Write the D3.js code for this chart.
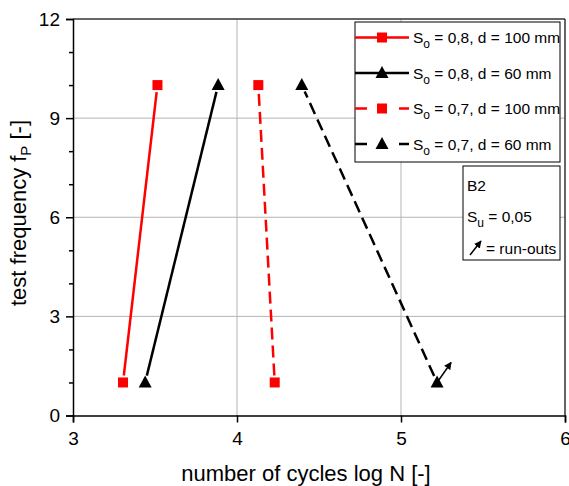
<!DOCTYPE html>
<html><head><meta charset="utf-8">
<script src="https://cdn.jsdelivr.net/npm/d3@7"></script>
<style>body{margin:0;background:#fff}svg{display:block;font-family:"Liberation Sans",Arial,sans-serif}</style>
</head><body><svg id="c" width="569" height="486"></svg>
<script>
// S-N style series: log N at low (1 Hz) and high (10 Hz) test frequency
const freqs = [1, 10];
const redSolid = [3.305, 3.515];
const blackSolid = [3.44, 3.885];
const redDashed = [4.23, 4.13];
const blackDashed = [5.22, 4.395];
const seriesNames = ["S|o| = 0,8, d = 100 mm", "S|o| = 0,8, d = 60 mm", "S|o| = 0,7, d = 100 mm", "S|o| = 0,7, d = 60 mm"];
const xTicks = [3, 4, 5, 6];
const yTicks = [0, 3, 6, 9, 12];
const yMinor = [1, 2, 4, 5, 7, 8, 10, 11];

const series = [
  {x: redSolid, color: "#ff0000", dash: null, sym: "square"},
  {x: blackSolid, color: "#000", dash: null, sym: "tri"},
  {x: redDashed, color: "#ff0000", dash: "12,6", sym: "square"},
  {x: blackDashed, color: "#000", dash: "12,6", sym: "tri"}
];

const svg = d3.select("#c");
const L = 73, R = 565, T = 19, B = 415.5;
const x = d3.scaleLinear().domain([3, 6]).range([L, R]);
const y = d3.scaleLinear().domain([0, 12]).range([B, T]);

// grid
const g = svg.append("g");
g.selectAll(".gx").data([4, 5]).join("line").attr("x1", d => x(d)).attr("x2", d => x(d))
  .attr("y1", T).attr("y2", B).attr("stroke", "#b4b4b4").attr("stroke-width", 1);
g.selectAll(".gy").data([3, 6, 9]).join("line").attr("y1", d => y(d)).attr("y2", d => y(d))
  .attr("x1", L).attr("x2", R).attr("stroke", "#b4b4b4").attr("stroke-width", 1);

// frame (top/right)
svg.append("line").attr("x1", L).attr("x2", R).attr("y1", T).attr("y2", T).attr("stroke", "#333").attr("stroke-width", 1.5);
svg.append("line").attr("x1", R).attr("x2", R).attr("y1", T).attr("y2", B).attr("stroke", "#333").attr("stroke-width", 1.5);

// axes
const xa = svg.append("g").attr("transform", `translate(0,${B})`)
  .call(d3.axisBottom(x).tickValues(xTicks).tickSize(7).tickPadding(9).tickFormat(d3.format("d")));
const ya = svg.append("g").attr("transform", `translate(${L},0)`)
  .call(d3.axisLeft(y).tickValues(yTicks).tickSize(7).tickPadding(6).tickFormat(d3.format("d")));
svg.append("g").attr("transform", `translate(${L},0)`)
  .call(d3.axisLeft(y).tickValues(yMinor).tickSize(4).tickFormat(""))
  .call(a => a.select(".domain").remove());
[xa, ya].forEach(a => {
  a.select(".domain").attr("stroke", "#000").attr("stroke-width", 1.5);
  a.selectAll("text").attr("font-size", 19).attr("fill", "#000").attr("font-family", "Liberation Sans, Arial, sans-serif");
});
svg.selectAll(".tick line").attr("stroke", "#000").attr("stroke-width", 1.5);

// axis titles
svg.append("text").attr("x", 306).attr("y", 481).attr("text-anchor", "middle").attr("font-size", 22)
  .text("number of cycles log N [-]");
const yt = svg.append("text").attr("transform", "translate(26,213) rotate(-90)").attr("text-anchor", "middle").attr("font-size", 22);
yt.append("tspan").text("test frequency f");
yt.append("tspan").attr("font-size", 15).attr("dy", 5).text("P");
yt.append("tspan").attr("dy", -5).text(" [-]");

function marker(sel, sym, cx, cy, color) {
  if (sym === "square") {
    sel.append("rect").attr("x", cx - 5).attr("y", cy - 5).attr("width", 10).attr("height", 10).attr("fill", color);
  } else {
    sel.append("path").attr("d", `M${cx},${cy - 7}L${cx + 6.5},${cy + 5}L${cx - 6.5},${cy + 5}Z`).attr("fill", color);
  }
}

// data lines with gaps near markers
const gap = 7;
series.forEach(s => {
  const p = freqs.map((f, i) => [x(s.x[i]), y(f)]);
  const dx = p[1][0] - p[0][0], dy = p[1][1] - p[0][1], len = Math.hypot(dx, dy);
  const ux = dx / len, uy = dy / len;
  svg.append("line").attr("x1", p[0][0] + ux * gap).attr("y1", p[0][1] + uy * gap)
    .attr("x2", p[1][0] - ux * gap).attr("y2", p[1][1] - uy * gap)
    .attr("stroke", s.color).attr("stroke-width", 2.5).attr("stroke-dasharray", s.dash);
  p.forEach(q => marker(svg, s.sym, q[0], q[1], s.color));
});

// arrow marker
svg.append("defs").append("marker").attr("id", "ah").attr("viewBox", "0 0 10 10").attr("refX", 9).attr("refY", 5)
  .attr("markerWidth", 5).attr("markerHeight", 5).attr("orient", "auto")
  .append("path").attr("d", "M0,0L10,5L0,10Z").attr("fill", "#000");

// run-out arrow on the last black dashed point
const rx = x(blackDashed[0]), ry = y(freqs[0]);
svg.append("line").attr("x1", rx).attr("y1", ry).attr("x2", rx + 14).attr("y2", ry - 20)
  .attr("stroke", "#000").attr("stroke-width", 1.5).attr("marker-end", "url(#ah)");

// legend
const lg = svg.append("g");
lg.append("rect").attr("x", 355).attr("y", 22).attr("width", 205).attr("height", 140).attr("fill", "#fff").attr("stroke", "#000").attr("stroke-width", 1);
series.forEach((s, i) => {
  const ly = 37.5 + i * 35.5;
  lg.append("line").attr("x1", 355).attr("x2", 409).attr("y1", ly).attr("y2", ly)
    .attr("stroke", s.color).attr("stroke-width", 2.5).attr("stroke-dasharray", s.dash ? "12,10" : null);
  if (s.dash) lg.append("rect").attr("x", 374).attr("y", ly - 6).attr("width", 16).attr("height", 12).attr("fill", "#fff");
  marker(lg, s.sym, 382, ly, s.color);
  const parts = seriesNames[i].split("|");
  const t = lg.append("text").attr("x", 413).attr("y", ly + 5.5).attr("font-size", 15.5);
  t.append("tspan").text(parts[0]);
  t.append("tspan").attr("font-size", 12).attr("dy", 5).text(parts[1]);
  t.append("tspan").attr("dy", -5).text(parts[2]);
});

// info box
const ib = svg.append("g");
ib.append("rect").attr("x", 463).attr("y", 166).attr("width", 97).attr("height", 94).attr("fill", "#fff").attr("stroke", "#000").attr("stroke-width", 1);
ib.append("text").attr("x", 467).attr("y", 191).attr("font-size", 15.5).text("B2");
const su = ib.append("text").attr("x", 467).attr("y", 222).attr("font-size", 15.5);
su.append("tspan").text("S");
su.append("tspan").attr("font-size", 12).attr("dy", 5).text("u");
su.append("tspan").attr("dy", -5).text(" = 0,05");
ib.append("line").attr("x1", 470).attr("y1", 255).attr("x2", 481).attr("y2", 241)
  .attr("stroke", "#000").attr("stroke-width", 1.5).attr("marker-end", "url(#ah)");
ib.append("text").attr("x", 486).attr("y", 254).attr("font-size", 15.5).text("= run-outs");
</script></body></html>
